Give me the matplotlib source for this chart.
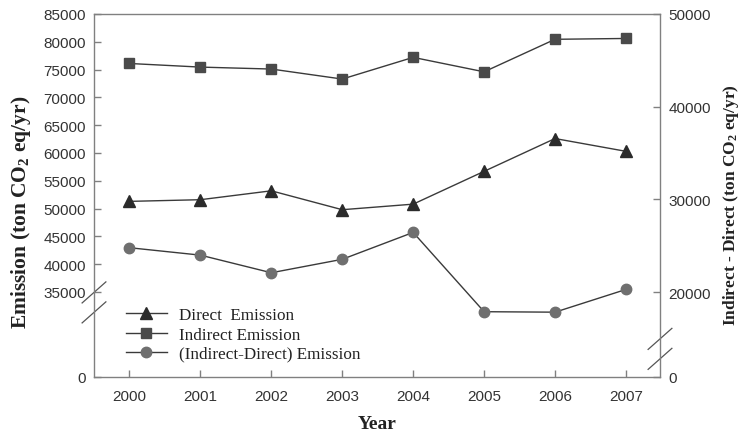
import matplotlib
matplotlib.use("Agg")
import matplotlib.pyplot as plt
import numpy as np

years = [2000, 2001, 2002, 2003, 2004, 2005, 2006, 2007]
direct = [51300, 51600, 53200, 49800, 50800, 56700, 62600, 60300]
indirect = [76100, 75450, 75100, 73300, 77200, 74600, 80450, 80600]
diff = [24800, 24000, 22100, 23550, 26450, 17900, 17850, 20300]

left_ticks = [0, 35000, 40000, 45000, 50000, 55000, 60000, 65000, 70000, 75000, 80000, 85000]
right_ticks = [0, 20000, 30000, 40000, 50000]

plt.rcParams['mathtext.fontset'] = 'custom'
plt.rcParams['mathtext.rm'] = 'Liberation Serif:bold'
plt.rcParams['mathtext.it'] = 'Liberation Serif:bold'
plt.rcParams['mathtext.bf'] = 'Liberation Serif:bold'


def make_break(lo, frac):
    # linear above lo, compressed below lo
    def fwd(v):
        v = np.asarray(v, dtype=float)
        return np.where(v >= lo, v, lo - (lo - v) * frac)

    def inv(u):
        u = np.asarray(u, dtype=float)
        return np.where(u >= lo, u, lo - (lo - u) / frac)
    return fwd, inv


fig = plt.figure(figsize=(7.4, 4.35), dpi=100)
ax = fig.add_axes([94 / 740, 57 / 435, 566 / 740, 363 / 435])
ax2 = ax.twinx()

ax.set_yscale('function', functions=make_break(35000, 0.4368))
ax2.set_yscale('function', functions=make_break(15000, 0.276))

line_kw = dict(color='#3a3a3a', lw=1.0)
h1, = ax.plot(years, direct, marker='^', ms=8, mfc='#2b2b2b', mec='#2b2b2b', label='Direct  Emission', **line_kw)
h2, = ax.plot(years, indirect, marker='s', ms=7, mfc='#4a4a4a', mec='#4a4a4a', label='Indirect Emission', **line_kw)
h3, = ax2.plot(years, diff, marker='o', ms=7.5, mfc='#6f6f6f', mec='#6f6f6f', label='(Indirect-Direct) Emission', **line_kw)

ax.set_xlim(1999.5, 2007.48)
ax.set_ylim(0, 85000)
ax2.set_ylim(0, 50000)
ax.set_xticks(years)
ax.set_xticklabels([str(y) for y in years])
ax.set_yticks(left_ticks)
ax2.set_yticks(right_ticks)
ax.set_yticklabels([str(t) for t in left_ticks])
ax2.set_yticklabels([str(t) for t in right_ticks])

spine_c = '#808080'
for a in (ax, ax2):
    for s in a.spines.values():
        s.set_color(spine_c)
        s.set_linewidth(1.0)
ax.spines['right'].set_visible(False)
ax2.spines['left'].set_visible(False)
ax2.spines['top'].set_visible(False)
ax2.spines['bottom'].set_visible(False)

ax.tick_params(axis='y', direction='in', length=5, width=1, color=spine_c, pad=6, labelcolor='#333333', labelsize=11)
ax.tick_params(axis='x', direction='in', length=5, width=1, color=spine_c, pad=9, labelcolor='#333333', labelsize=11)
ax2.tick_params(axis='y', direction='in', length=5, width=1, color=spine_c, pad=6, labelcolor='#333333', labelsize=11)
for lab in ax.get_xticklabels() + ax.get_yticklabels() + ax2.get_yticklabels():
    lab.set_fontfamily('Liberation Sans')
ax.minorticks_off()
ax2.minorticks_off()

ax.set_ylabel('Emission (ton CO$_2$ eq/yr)', family='Liberation Serif', weight='bold', size=15.5, color='#222222')
ax.yaxis.set_label_coords(-0.107, 0.457)
ax2.set_ylabel('Indirect - Direct (ton CO$_2$ eq/yr)', family='Liberation Serif', weight='bold', size=12.5, color='#222222')
ax2.yaxis.set_label_coords(1.108, 0.477)
ax.set_xlabel('Year', family='Liberation Serif', weight='bold', size=14, color='#222222')
ax.xaxis.set_label_coords(0.5, -0.106)

# axis break marks
bk = dict(color='#555555', lw=0.9, clip_on=False)
dx, dy = 0.021, 0.029
for yc in (0.233, 0.178):
    ax.plot([-dx, dx], [yc - dy, yc + dy], transform=ax.transAxes, **bk)
for yc in (0.105, 0.050):
    ax.plot([1 - dx, 1 + dx], [yc - dy, yc + dy], transform=ax.transAxes, **bk)

leg = ax.legend(handles=[h1, h2, h3], loc='center left', bbox_to_anchor=(0.056, 0.117),
                frameon=False, borderpad=0, borderaxespad=0, handlelength=2.4,
                handletextpad=0.7, labelspacing=0.18,
                prop=dict(family='Liberation Serif', size=12.3))
for t in leg.get_texts():
    t.set_color('#222222')

fig.savefig('out.png', dpi=100)
